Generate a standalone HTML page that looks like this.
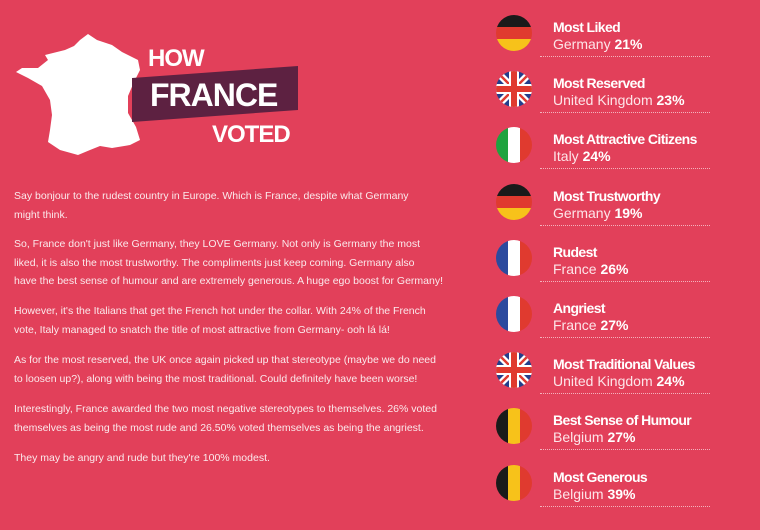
<!DOCTYPE html>
<html><head><meta charset="utf-8"><style>
body{margin:0;width:760px;height:530px;background:#e2405a;position:relative;overflow:hidden;font-family:"Liberation Sans",sans-serif;color:#fff}
.p{position:absolute;left:14px;font-size:10.5px;line-height:18.7px;color:#fbe9ec;white-space:nowrap}
.t{position:absolute;left:553px;font-size:14px;font-weight:bold;letter-spacing:-0.6px;line-height:16px}
.s{position:absolute;left:553px;font-size:14px;line-height:16px;color:#fde5e9}
.d{position:absolute;left:540px;width:170px;border-top:1px dotted rgba(255,255,255,0.6)}
</style></head><body>
<svg style="position:absolute;left:0;top:0" width="320" height="170">
<polygon fill="#fff" points="88,34 97,40 112,45 122,52 138,60 140,70 134,82 128,96 128,113 136,127 140,140 130,145 112,148 100,146 90,150 78,155 60,150 48,142 50,130 52,115 50,100 42,86 28,78 16,72 22,68 38,68 48,60 45,55 65,50 74,46 80,40"/>
<polygon fill="#5d2141" points="132,78 298,66 298,110 132,122"/>
<text x="148" y="66" font-size="24" font-weight="bold" fill="#fff" font-family="Liberation Sans" letter-spacing="-1">HOW</text>
<text x="150" y="106" font-size="32" font-weight="bold" fill="#fff" font-family="Liberation Sans" letter-spacing="-1">FRANCE</text>
<text x="212" y="142" font-size="24" font-weight="bold" fill="#fff" font-family="Liberation Sans" letter-spacing="-1">VOTED</text>
</svg>
<div class="p" style="top:187px">Say bonjour to the rudest country in Europe. Which is France, despite what Germany<br>might think.</div>
<div class="p" style="top:235px">So, France don't just like Germany, they LOVE Germany. Not only is Germany the most<br>liked, it is also the most trustworthy. The compliments just keep coming. Germany also<br>have the best sense of humour and are extremely generous. A huge ego boost for Germany!</div>
<div class="p" style="top:302px">However, it's the Italians that get the French hot under the collar. With 24% of the French<br>vote, Italy managed to snatch the title of most attractive from Germany- ooh lá lá!</div>
<div class="p" style="top:351px">As for the most reserved, the UK once again picked up that stereotype (maybe we do need<br>to loosen up?), along with being the most traditional. Could definitely have been worse!</div>
<div class="p" style="top:400px">Interestingly, France awarded the two most negative stereotypes to themselves. 26% voted<br>themselves as being the most rude and 26.50% voted themselves as being the angriest.</div>
<div class="p" style="top:449px">They may be angry and rude but they're 100% modest.</div>
<div id="list"></div>
<script>
const titles=["Most Liked","Most Reserved","Most Attractive Citizens","Most Trustworthy","Rudest","Angriest","Most Traditional Values","Best Sense of Humour","Most Generous"];
const countries=["Germany","United Kingdom","Italy","Germany","France","France","United Kingdom","Belgium","Belgium"];
const values=[21,23,24,19,26,27,24,27,39];
const flags={Germany:[["#1a1a1a","#e03a2f","#f7c21a"],"h"],Belgium:[["#1a1a1a","#f7c21a","#e03a2f"],"v"],France:[["#2c4a9e","#ffffff","#e03a2f"],"v"],Italy:[["#1fa33f","#ffffff","#e03a2f"],"v"]};
const list=document.getElementById('list');
titles.forEach((t,i)=>{
 const cy=33+i*56.2;
 const c=countries[i];
 let svg='';
 if(c==="United Kingdom"){
  svg=`<rect width="36" height="36" fill="#233e8b"/><path d="M0,0L36,36M36,0L0,36" stroke="#fff" stroke-width="7"/><path d="M0,0L36,36M36,0L0,36" stroke="#e03a2f" stroke-width="2.5"/><path d="M18,0V36M0,18H36" stroke="#fff" stroke-width="10"/><path d="M18,0V36M0,18H36" stroke="#e03a2f" stroke-width="6"/>`;
 } else {
  const [cols,dir]=flags[c];
  cols.forEach((col,k)=>{svg+=dir==="h"?`<rect x="0" y="${k*12}" width="36" height="12" fill="${col}"/>`:`<rect x="${k*12}" y="0" width="12" height="36" fill="${col}"/>`;});
 }
 const f=document.createElement('div');
 
 
 f.style.cssText=`position:absolute;left:496px;top:${cy-18}px;width:36px;height:36px;border-radius:50%;overflow:hidden`;
 f.innerHTML=`<svg width="36" height="36">${svg}</svg>`;
 list.appendChild(f);
 const a=document.createElement('div');a.className='t';a.textContent=t;
 
 
 a.style.top=(cy-14)+'px';list.appendChild(a);
 const b=document.createElement('div');b.className='s';b.innerHTML=c+' <b style="color:#fff">'+values[i]+'%</b>';
 
 
 b.style.top=(cy+3)+'px';list.appendChild(b);
 const d=document.createElement('div');d.className='d';
 
 
 d.style.top=(cy+23)+'px';list.appendChild(d);
});
</script>
</body></html>
